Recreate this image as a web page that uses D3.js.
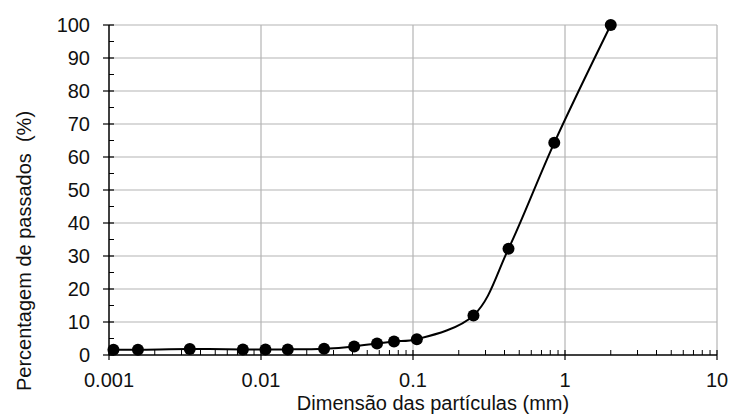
<!DOCTYPE html>
<html>
<head>
<meta charset="utf-8">
<script src="https://cdn.jsdelivr.net/npm/d3@7"></script>
<style>
  body { margin: 0; background: #fff; }
  svg { display: block; font-family: "Liberation Sans", Arial, sans-serif; }
</style>
</head>
<body>
<svg id="chart"></svg>
<script>
// Data
const diameters = [0.00107, 0.00155, 0.0034, 0.0076, 0.0107, 0.015, 0.026, 0.041, 0.058, 0.075, 0.106, 0.25, 0.425, 0.85, 2.0];
const passing = [1.6, 1.6, 1.8, 1.7, 1.7, 1.7, 1.9, 2.6, 3.5, 4.1, 4.8, 12.0, 32.2, 64.3, 100];
const xTicks = [0.001, 0.01, 0.1, 1, 10];
const xTickLabels = ["0.001", "0.01", "0.1", "1", "10"];
const yTicks = [0, 10, 20, 30, 40, 50, 60, 70, 80, 90, 100];

const svgWidth = 729;
const svgHeight = 415;
const margin = {top: 25, right: 12, bottom: 60, left: 109};
const chartWidth = svgWidth - margin.left - margin.right;
const chartHeight = svgHeight - margin.top - margin.bottom;
const fontSize = "20px";

const svg = d3.select("#chart")
  .attr("width", svgWidth)
  .attr("height", svgHeight);

const g = svg.append("g")
  .attr("transform", `translate(${margin.left}, ${margin.top})`);

const xScale = d3.scaleLog().domain([0.001, 10]).range([0, chartWidth]);
const yScale = d3.scaleLinear().domain([0, 100]).range([chartHeight, 0]);

// minor ticks for the log axis
const minorX = [];
for (let e = -3; e < 1; e++) {
  for (let m = 2; m <= 9; m++) minorX.push(m * Math.pow(10, e));
}

// gridlines
g.append("g").selectAll("line")
  .data(yTicks.slice(1))
  .join("line")
  .attr("x1", 0).attr("x2", chartWidth)
  .attr("y1", d => yScale(d)).attr("y2", d => yScale(d))
  .attr("stroke", "#b4b4b4").attr("stroke-width", 1.2);
g.append("g").selectAll("line")
  .data(xTicks.slice(1))
  .join("line")
  .attr("x1", d => xScale(d)).attr("x2", d => xScale(d))
  .attr("y1", 0).attr("y2", chartHeight)
  .attr("stroke", "#b4b4b4").attr("stroke-width", 1.2);

// x axis
const xAxis = g.append("g")
  .attr("transform", `translate(0, ${chartHeight})`);
xAxis.append("line")
  .attr("x1", 0).attr("x2", chartWidth)
  .attr("stroke", "#000").attr("stroke-width", 1.5);
xAxis.selectAll("line.minor")
  .data(minorX)
  .join("line")
  .attr("class", "minor")
  .attr("x1", d => xScale(d)).attr("x2", d => xScale(d))
  .attr("y1", -5).attr("y2", 0)
  .attr("stroke", "#000").attr("stroke-width", 1);
xAxis.selectAll("line.major")
  .data(xTicks)
  .join("line")
  .attr("class", "major")
  .attr("x1", d => xScale(d)).attr("x2", d => xScale(d))
  .attr("y1", -5).attr("y2", 5)
  .attr("stroke", "#000").attr("stroke-width", 1.2);
xAxis.selectAll("text")
  .data(xTicks)
  .join("text")
  .attr("x", d => xScale(d))
  .attr("y", 32)
  .attr("text-anchor", "middle")
  .attr("font-size", fontSize)
  .attr("fill", "#111")
  .text((d, i) => xTickLabels[i]);

// y axis
const yAxis = g.append("g");
yAxis.append("line")
  .attr("y1", 0).attr("y2", chartHeight)
  .attr("stroke", "#000").attr("stroke-width", 1.5);
yAxis.selectAll("line.minor")
  .data(d3.range(5, 100, 10))
  .join("line")
  .attr("class", "minor")
  .attr("x1", 0).attr("x2", 5)
  .attr("y1", d => yScale(d)).attr("y2", d => yScale(d))
  .attr("stroke", "#000").attr("stroke-width", 1);
yAxis.selectAll("line.major")
  .data(yTicks)
  .join("line")
  .attr("class", "major")
  .attr("x1", -6).attr("x2", 5)
  .attr("y1", d => yScale(d)).attr("y2", d => yScale(d))
  .attr("stroke", "#000").attr("stroke-width", 1.2);
yAxis.selectAll("text")
  .data(yTicks)
  .join("text")
  .attr("x", -19)
  .attr("y", d => yScale(d))
  .attr("dy", "0.36em")
  .attr("text-anchor", "end")
  .attr("font-size", fontSize)
  .attr("fill", "#111")
  .text(d => d);

// smoothed line and markers
const points = diameters.map((d, i) => ({d: d, p: passing[i]}));
const line = d3.line()
  .x(d => xScale(d.d))
  .y(d => yScale(d.p))
  .curve(d3.curveCatmullRom.alpha(0.5));

g.append("path")
  .datum(points)
  .attr("d", line)
  .attr("fill", "none")
  .attr("stroke", "#000")
  .attr("stroke-width", 2);

g.selectAll("circle")
  .data(points)
  .join("circle")
  .attr("cx", d => xScale(d.d))
  .attr("cy", d => yScale(d.p))
  .attr("r", 6)
  .attr("fill", "#000");

// axis titles
svg.append("text")
  .attr("x", 433)
  .attr("y", 410)
  .attr("text-anchor", "middle")
  .attr("font-size", fontSize)
  .attr("fill", "#111")
  .text("Dimensão das partículas (mm)");

svg.append("text")
  .attr("transform", "rotate(-90)")
  .attr("x", -251)
  .attr("y", 31)
  .attr("text-anchor", "middle")
  .attr("font-size", fontSize)
  .attr("fill", "#111")
  .style("white-space", "pre")
  .text("Percentagem de passados  (%)");
</script>
</body>
</html>
